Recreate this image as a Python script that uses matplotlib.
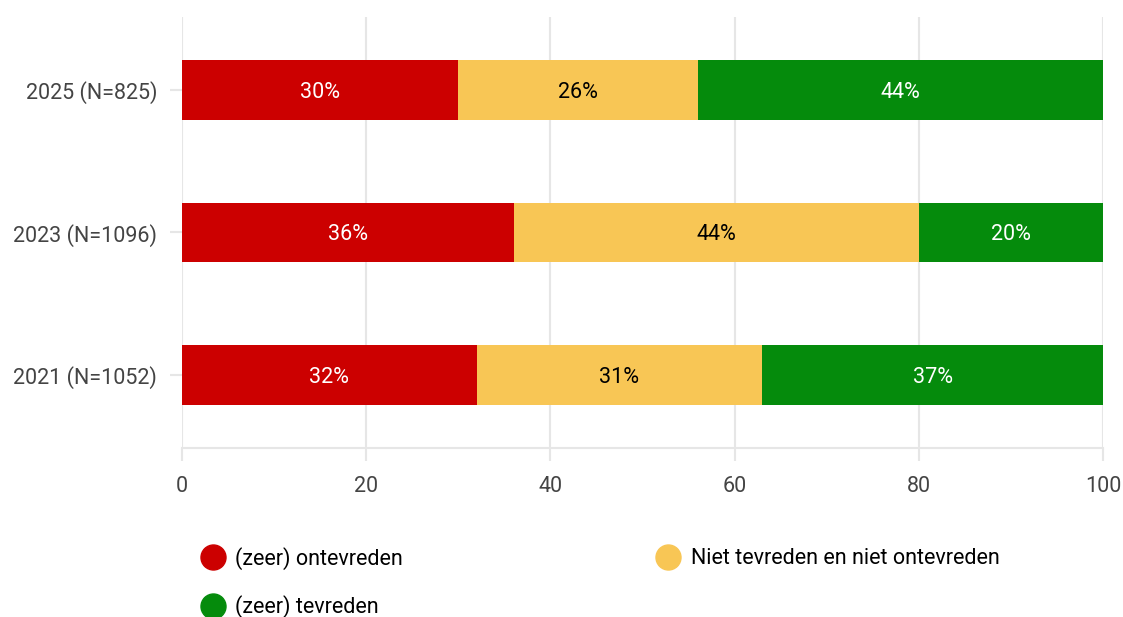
import matplotlib.pyplot as plt
import numpy as np

# data
years = ['2021 (N=1052)', '2023 (N=1096)', '2025 (N=825)']
ontevreden = [32, 36, 30]
neutraal = [31, 44, 26]
tevreden = [37, 20, 44]

series = ['(zeer) ontevreden', 'Niet tevreden en niet ontevreden', '(zeer) tevreden']
colors = ['#cc0000', '#f8c655', '#058b0c']
label_colors = ['white', 'black', 'white']

plt.rcParams['font.family'] = ['Roboto', 'DejaVu Sans']

fig = plt.figure(figsize=(11.23, 6.17), dpi=100)
ax = fig.add_axes([182 / 1123, 1 - 448 / 617, (1103 - 182) / 1123, (448 - 17) / 617])

y = np.arange(len(years))
left = np.zeros(len(years))
handles = []
for vals, col, lc, name in zip([ontevreden, neutraal, tevreden], colors, label_colors, series):
    bars = ax.barh(y, vals, left=left, height=0.42, color=col, zorder=3, label=name)
    for b, v in zip(bars, vals):
        ax.text(b.get_x() + b.get_width() / 2, b.get_y() + b.get_height() / 2, f'{v}%',
                ha='center', va='center_baseline', color=lc, fontsize=15.5, zorder=4)
    left += np.array(vals)
    handles.append(plt.Line2D([], [], marker='o', linestyle='', markersize=18,
                              markerfacecolor=col, markeredgecolor=col))

ax.set_xlim(0, 100)
ax.set_ylim(-0.51, 2.51)
ax.set_yticks(y)
ax.set_yticklabels(years)
ax.set_xticks([0, 20, 40, 60, 80, 100])
ax.grid(axis='x', color='#e6e6e6', linewidth=1.5, zorder=0)
for s in ['top', 'right', 'left']:
    ax.spines[s].set_visible(False)
ax.spines['bottom'].set_color('#e6e6e6')
ax.spines['bottom'].set_linewidth(1.5)
ax.tick_params(axis='both', colors='#e6e6e6', labelcolor='#444444', labelsize=15.5,
               length=9, width=1.5)
ax.tick_params(axis='y', pad=9)
ax.tick_params(axis='x', pad=11)

# legend: red, yellow in row 1, green in row 2
order = [0, 2, 1]
fig.legend([handles[i] for i in order], [series[i] for i in order],
           loc='upper left', bbox_to_anchor=(191 / 1123, 0, (1008 - 191) / 1123, 1 - 538 / 617),
           mode='expand', ncol=2, frameon=False, fontsize=15.5, handletextpad=0.45,
           labelspacing=1.2, handlelength=1.2, borderaxespad=0)

fig.savefig('out.png', dpi=100)
